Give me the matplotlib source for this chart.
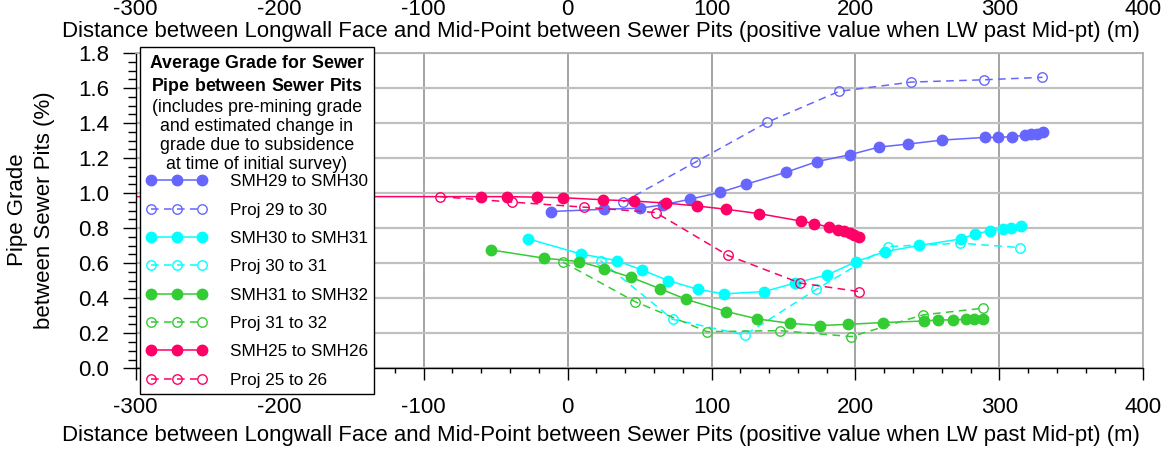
# =====================================================
# Pipe grade between sewer pits vs. longwall face distance
# =====================================================

import matplotlib
matplotlib.use("Agg")
import matplotlib.pyplot as plt
from matplotlib.ticker import MultipleLocator

plt.rcParams["font.family"] = ["Liberation Sans", "DejaVu Sans"]
plt.rcParams["mathtext.fontset"] = "custom"
plt.rcParams["mathtext.rm"] = "Liberation Sans"
plt.rcParams["mathtext.bf"] = "Liberation Sans:bold"
plt.rcParams["axes.unicode_minus"] = False

# ------------------------------
# Data
# ------------------------------
smh29_x = [-11.6, 25.4, 50.2, 66.4, 85.4, 105.8, 123.8, 152, 173.3, 196, 216.4,
           236.5, 260.4, 289.8, 299, 309, 318, 322, 326, 330]
smh29_y = [0.895, 0.908, 0.914, 0.933, 0.966, 1.004, 1.05, 1.12, 1.18, 1.219, 1.263,
           1.28, 1.303, 1.318, 1.318, 1.323, 1.33, 1.335, 1.34, 1.348]
proj29_x = [38.6, 88.4, 138.6, 188.6, 238.9, 289.1, 329.9]
proj29_y = [0.949, 1.175, 1.404, 1.581, 1.634, 1.647, 1.661]

smh30_x = [-27.3, 9, 34, 51.4, 69.9, 90.3, 108.5, 136.5, 157.8, 180.3, 200.7,
           220.3, 244.2, 273.6, 282.8, 293.3, 302.5, 307.8, 314.8]
smh30_y = [0.739, 0.653, 0.615, 0.562, 0.501, 0.451, 0.425, 0.438, 0.486, 0.533, 0.609,
           0.666, 0.701, 0.739, 0.766, 0.785, 0.794, 0.803, 0.813]
proj30_x = [22.9, 72.9, 123.1, 172.9, 222.6, 272.9, 314.6]
proj30_y = [0.615, 0.28, 0.19, 0.451, 0.695, 0.714, 0.689]

smh31_x = [-53.3, -16.5, 8.1, 25.4, 43.8, 64.1, 82.2, 110.4, 131.7, 154.4, 175.2,
           194.9, 218.8, 247.6, 257.4, 267.8, 276.6, 282.2, 288.6]
smh31_y = [0.676, 0.629, 0.609, 0.569, 0.52, 0.455, 0.394, 0.324, 0.282, 0.257, 0.244,
           0.251, 0.261, 0.27, 0.276, 0.276, 0.28, 0.28, 0.28]
proj31_x = [-3.1, 46.7, 96.9, 147.4, 197.2, 246.9, 288.6]
proj31_y = [0.606, 0.381, 0.209, 0.215, 0.181, 0.305, 0.343]

smh25_x = [-320, -60.2, -41.9, -21.5, -3.5, 24.7, 46, 68.3, 89.6, 110, 133,
           162.5, 171.3, 181.7, 188, 192, 196, 199, 202.5]
smh25_y = [0.98, 0.98, 0.98, 0.977, 0.974, 0.962, 0.955, 0.943, 0.927, 0.908, 0.883,
           0.84, 0.826, 0.806, 0.79, 0.782, 0.771, 0.762, 0.752]
proj25_x = [-88.7, -38.9, 11.3, 61.3, 111.5, 161.8, 202.5]
proj25_y = [0.98, 0.949, 0.92, 0.889, 0.644, 0.486, 0.438]

series = [
    ("SMH29 to SMH30", smh29_x, smh29_y, "#6666FF", False),
    ("Proj 29 to 30", proj29_x, proj29_y, "#6666FF", True),
    ("SMH30 to SMH31", smh30_x, smh30_y, "#00FFFF", False),
    ("Proj 30 to 31", proj30_x, proj30_y, "#00FFFF", True),
    ("SMH31 to SMH32", smh31_x, smh31_y, "#33CC33", False),
    ("Proj 31 to 32", proj31_x, proj31_y, "#33CC33", True),
    ("SMH25 to SMH26", smh25_x, smh25_y, "#FF0066", False),
    ("Proj 25 to 26", proj25_x, proj25_y, "#FF0066", True),
]

xlabel = "Distance between Longwall Face and Mid-Point between Sewer Pits (positive value when LW past Mid-pt) (m)"

# ------------------------------
# Figure
# ------------------------------
fig = plt.figure(figsize=(11.68, 4.51), dpi=100)
ax = fig.add_axes([0.1162, 0.1834, 0.8627, 0.6991])

for label, xs, ys, col, proj in series:
    if proj:
        ax.plot(xs, ys, color=col, lw=1.1, ls=(0, (5, 3.5)), marker="o", ms=6.8,
                mfc="none", mec=col, mew=1.0, label=label)
    else:
        ax.plot(xs, ys, color=col, lw=1.1, ls="-", marker="o", ms=7.5,
                mfc=col, mec=col, label=label)

ax.set_xlim(-300, 400)
ax.set_ylim(0, 1.8)
ax.xaxis.set_major_locator(MultipleLocator(100))
ax.xaxis.set_minor_locator(MultipleLocator(20))
ax.yaxis.set_major_locator(MultipleLocator(0.2))
ax.yaxis.set_minor_locator(MultipleLocator(0.05))
ax.yaxis.set_major_formatter(plt.FormatStrFormatter("%.1f"))

ax.grid(axis="y", which="major", color="#c0c0c0", lw=1.6)
ax.grid(axis="x", which="major", color="#8c8c8c", lw=1.1)
ax.set_axisbelow(True)

ax.spines["top"].set_color("#b0b0b0")
ax.spines["right"].set_color("#b0b0b0")
ax.spines["top"].set_linewidth(1.3)
ax.spines["right"].set_linewidth(1.3)
ax.spines["left"].set_linewidth(1.0)
ax.spines["bottom"].set_linewidth(1.0)

ax.tick_params(axis="x", which="major", length=8.6, width=1.0, pad=12, labelsize=16)
ax.tick_params(axis="x", which="minor", length=3.6, width=1.0)
ax.tick_params(axis="y", which="major", length=9.4, width=1.0, pad=10, labelsize=16)
ax.tick_params(axis="y", which="minor", length=5.8, width=1.0)

# top axis labels
top = ax.secondary_xaxis("top")
top.xaxis.set_major_locator(MultipleLocator(100))
top.tick_params(axis="x", length=0, pad=24, labelsize=16)
top.spines["top"].set_visible(False)

fig.text(601 / 1168, 1 - 32 / 451, xlabel, ha="center", va="center", fontsize=15.9)
fig.text(601 / 1168, 1 - 436 / 451, xlabel, ha="center", va="center", fontsize=15.9)
fig.text(31 / 1168, 1 - 210 / 451, "Pipe Grade\nbetween Sewer Pits (%)", rotation=90,
         ha="center", va="center", multialignment="center", fontsize=16, linespacing=1.35)

# ------------------------------
# Legend
# ------------------------------
title = ("$\\mathbf{Average\\ Grade\\ for\\ Sewer}$\n"
         "$\\mathbf{Pipe\\ between\\ Sewer\\ Pits}$\n"
         "(includes pre-mining grade\n"
         "and estimated change in\n"
         "grade due to subsidence\n"
         "at time of initial survey)")
handles, labels = ax.get_legend_handles_labels()
leg = fig.legend(handles, labels, loc="upper left", bbox_to_anchor=(140 / 1168, 1 - 47 / 451),
                 bbox_transform=fig.transFigure, title=title, fontsize=12.3, title_fontsize=12.8,
                 numpoints=3, handlelength=3.6, handletextpad=1.3, labelspacing=0.78,
                 borderpad=0.35, borderaxespad=0, fancybox=False, framealpha=1,
                 edgecolor="black")
leg.get_frame().set_linewidth(1.0)
leg.get_title().set_multialignment("center")
leg.get_title().set_linespacing(1.15)
leg._legend_box.sep = 1

fig.savefig("out.png", dpi=100)
